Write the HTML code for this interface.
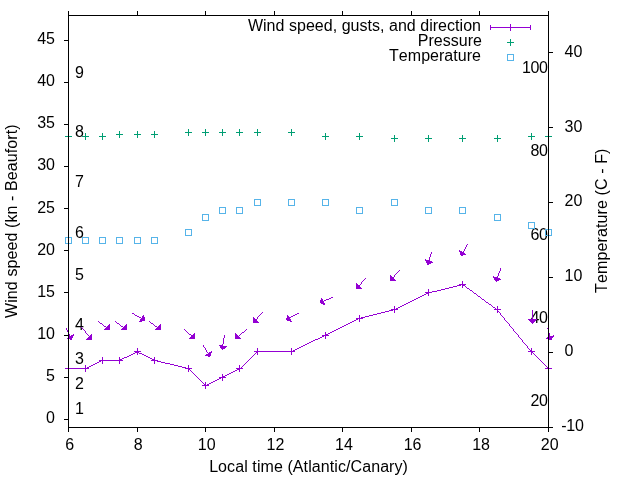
<!DOCTYPE html>
<html><head><meta charset="utf-8"><title>Wind plot</title>
<style>html,body{margin:0;padding:0;background:#fff;}svg{display:block;will-change:transform;}text{font-kerning:none;letter-spacing:0.03px;font-family:"Liberation Sans",sans-serif;font-size:16px;fill:#000;}</style></head><body>
<svg width="640" height="480" viewBox="0 0 640 480">
<rect width="640" height="480" fill="#fff"/>
<text x="75" y="414.3">1</text>
<text x="75" y="389.1">2</text>
<text x="75" y="363.8">3</text>
<text x="75" y="330.2">4</text>
<text x="75" y="279.8">5</text>
<text x="75" y="237.7">6</text>
<text x="75" y="187.3">7</text>
<text x="75" y="136.8">8</text>
<text x="75" y="78.0">9</text>
<text x="547.6" y="406.1" text-anchor="end" style="letter-spacing:-0.4px">20</text>
<text x="547.6" y="322.9" text-anchor="end" style="letter-spacing:-0.4px">40</text>
<text x="547.6" y="239.7" text-anchor="end" style="letter-spacing:-0.4px">60</text>
<text x="547.6" y="156.4" text-anchor="end" style="letter-spacing:-0.4px">80</text>
<text x="547.6" y="73.2" text-anchor="end" style="letter-spacing:-0.4px">100</text>
<g stroke="#9400d3" stroke-width="1" fill="#9400d3" shape-rendering="crispEdges">
<path d="M71.37 339.52 L73.66 334.37 L67.49 338.28 Z" stroke-linejoin="round"/>
<path d="M92.00 340.00 L92.00 333.60 L85.60 340.00 Z" stroke="none"/>
<path d="M110.00 330.00 L110.00 323.60 L103.60 330.00 Z" stroke="none"/>
<path d="M127.00 330.00 L127.00 323.60 L120.60 330.00 Z" stroke="none"/>
<path d="M144.56 320.26 L143.62 315.48 L139.39 321.69 Z" stroke-linejoin="round"/>
<path d="M161.00 330.00 L161.00 323.60 L154.60 330.00 Z" stroke="none"/>
<path d="M195.00 339.00 L195.00 332.60 L188.60 339.00 Z" stroke="none"/>
<path d="M209.97 356.56 L211.42 351.78 L205.49 355.39 Z" stroke-linejoin="round"/>
<path d="M222.03 349.32 L219.42 345.16 L226.50 346.84 Z" stroke-linejoin="round"/>
<path d="M235.00 339.00 L235.00 332.60 L241.40 339.00 Z" stroke="none"/>
<path d="M253.00 323.00 L253.00 316.60 L259.40 323.00 Z" stroke="none"/>
<path d="M286.47 319.62 L287.70 315.59 L291.23 321.37 Z" stroke-linejoin="round"/>
<path d="M320.46 302.61 L321.50 298.59 L324.75 304.54 Z" stroke-linejoin="round"/>
<path d="M356.00 289.00 L356.00 282.60 L362.40 289.00 Z" stroke="none"/>
<path d="M390.00 281.00 L390.00 274.60 L396.40 281.00 Z" stroke="none"/>
<path d="M427.95 264.32 L425.39 259.61 L432.50 262.37 Z" stroke-linejoin="round"/>
<path d="M461.18 255.53 L459.33 250.47 L465.51 254.11 Z" stroke-linejoin="round"/>
<path d="M496.12 281.51 L493.30 276.80 L500.60 279.39 Z" stroke-linejoin="round"/>
<path d="M532.50 323.60 L528.37 319.17 L536.63 319.17 Z" stroke-linejoin="round"/>
<path d="M550.88 340.01 L546.75 338.28 L553.59 335.98 Z" stroke-linejoin="round"/>
</g>
<path d="M467 244h1v1h-1zM466 245h1v1h-1zM466 246h1v1h-1zM465 247h1v1h-1zM465 248h1v1h-1zM464 249h1v1h-1zM464 250h1v1h-1zM463 251h1v1h-1zM431 252h1v1h-1zM462 252h1v1h-1zM431 253h1v1h-1zM462 253h1v1h-1zM430 254h1v1h-1zM430 255h1v1h-1zM430 256h1v1h-1zM429 257h1v1h-1zM429 258h1v1h-1zM429 259h1v1h-1zM429 260h1v1h-1zM428 261h1v1h-1zM428 262h1v1h-1zM500 268h1v1h-1zM500 269h1v1h-1zM399 270h1v1h-1zM500 270h1v1h-1zM398 271h1v1h-1zM499 271h1v1h-1zM397 272h1v1h-1zM499 272h1v1h-1zM396 273h1v1h-1zM498 273h1v1h-1zM395 274h1v1h-1zM498 274h1v1h-1zM394 275h1v1h-1zM498 275h1v1h-1zM394 276h1v1h-1zM497 276h1v1h-1zM393 277h1v1h-1zM497 277h1v1h-1zM365 278h1v1h-1zM392 278h1v1h-1zM497 278h1v1h-1zM364 279h1v1h-1zM391 279h1v1h-1zM496 279h1v1h-1zM363 280h1v1h-1zM362 281h1v1h-1zM462 281h1v1h-1zM361 282h1v1h-1zM462 282h1v1h-1zM361 283h1v1h-1zM462 283h1v1h-1zM360 284h1v1h-1zM459 284h7v1h-7zM359 285h1v1h-1zM457 285h4v1h-4zM462 285h3v1h-3zM358 286h1v1h-1zM453 286h4v1h-4zM462 286h1v1h-1zM465 286h1v1h-1zM357 287h1v1h-1zM449 287h4v1h-4zM462 287h1v1h-1zM466 287h1v1h-1zM445 288h4v1h-4zM467 288h2v1h-2zM428 289h1v1h-1zM441 289h4v1h-4zM469 289h1v1h-1zM428 290h1v1h-1zM437 290h4v1h-4zM470 290h2v1h-2zM428 291h1v1h-1zM432 291h5v1h-5zM472 291h1v1h-1zM425 292h7v1h-7zM473 292h1v1h-1zM426 293h3v1h-3zM474 293h2v1h-2zM424 294h2v1h-2zM428 294h1v1h-1zM476 294h1v1h-1zM422 295h2v1h-2zM428 295h1v1h-1zM477 295h1v1h-1zM420 296h2v1h-2zM478 296h2v1h-2zM331 297h2v1h-2zM418 297h2v1h-2zM480 297h1v1h-1zM329 298h2v1h-2zM416 298h2v1h-2zM481 298h1v1h-1zM326 299h3v1h-3zM414 299h2v1h-2zM482 299h2v1h-2zM324 300h2v1h-2zM412 300h2v1h-2zM484 300h1v1h-1zM322 301h2v1h-2zM410 301h2v1h-2zM485 301h1v1h-1zM408 302h2v1h-2zM486 302h2v1h-2zM406 303h2v1h-2zM488 303h1v1h-1zM404 304h2v1h-2zM489 304h2v1h-2zM402 305h2v1h-2zM491 305h1v1h-1zM394 306h1v1h-1zM400 306h2v1h-2zM492 306h1v1h-1zM497 306h1v1h-1zM394 307h1v1h-1zM398 307h2v1h-2zM493 307h2v1h-2zM497 307h1v1h-1zM394 308h1v1h-1zM396 308h2v1h-2zM495 308h1v1h-1zM497 308h1v1h-1zM391 309h7v1h-7zM494 309h7v1h-7zM389 310h4v1h-4zM394 310h1v1h-1zM497 310h1v1h-1zM532 310h1v1h-1zM385 311h4v1h-4zM394 311h1v1h-1zM497 311h2v1h-2zM532 311h1v1h-1zM262 312h1v1h-1zM381 312h4v1h-4zM394 312h1v1h-1zM497 312h1v1h-1zM499 312h1v1h-1zM532 312h1v1h-1zM132 313h2v1h-2zM261 313h1v1h-1zM297 313h2v1h-2zM377 313h4v1h-4zM500 313h1v1h-1zM532 313h1v1h-1zM134 314h1v1h-1zM260 314h1v1h-1zM295 314h2v1h-2zM373 314h4v1h-4zM500 314h1v1h-1zM532 314h1v1h-1zM135 315h2v1h-2zM259 315h1v1h-1zM293 315h2v1h-2zM359 315h1v1h-1zM369 315h4v1h-4zM501 315h1v1h-1zM532 315h1v1h-1zM137 316h2v1h-2zM258 316h1v1h-1zM291 316h2v1h-2zM359 316h1v1h-1zM365 316h4v1h-4zM502 316h1v1h-1zM532 316h1v1h-1zM139 317h2v1h-2zM257 317h1v1h-1zM289 317h2v1h-2zM359 317h1v1h-1zM361 317h4v1h-4zM503 317h1v1h-1zM532 317h1v1h-1zM141 318h1v1h-1zM257 318h1v1h-1zM288 318h1v1h-1zM356 318h7v1h-7zM504 318h1v1h-1zM532 318h1v1h-1zM142 319h1v1h-1zM256 319h1v1h-1zM356 319h2v1h-2zM359 319h1v1h-1zM504 319h1v1h-1zM532 319h1v1h-1zM255 320h1v1h-1zM354 320h2v1h-2zM359 320h1v1h-1zM505 320h1v1h-1zM532 320h1v1h-1zM98 321h1v1h-1zM115 321h1v1h-1zM149 321h1v1h-1zM254 321h1v1h-1zM352 321h2v1h-2zM359 321h1v1h-1zM506 321h1v1h-1zM532 321h1v1h-1zM99 322h1v1h-1zM116 322h1v1h-1zM150 322h1v1h-1zM350 322h2v1h-2zM507 322h1v1h-1zM100 323h2v1h-2zM117 323h2v1h-2zM151 323h2v1h-2zM348 323h2v1h-2zM508 323h1v1h-1zM102 324h1v1h-1zM119 324h1v1h-1zM153 324h1v1h-1zM346 324h2v1h-2zM509 324h1v1h-1zM103 325h1v1h-1zM120 325h1v1h-1zM154 325h1v1h-1zM344 325h2v1h-2zM509 325h1v1h-1zM104 326h2v1h-2zM121 326h2v1h-2zM155 326h2v1h-2zM342 326h2v1h-2zM510 326h1v1h-1zM81 327h1v1h-1zM106 327h1v1h-1zM123 327h1v1h-1zM157 327h1v1h-1zM340 327h2v1h-2zM511 327h1v1h-1zM66 328h1v1h-1zM82 328h1v1h-1zM107 328h1v1h-1zM124 328h1v1h-1zM158 328h1v1h-1zM338 328h2v1h-2zM512 328h1v1h-1zM547 328h1v1h-1zM66 329h1v1h-1zM83 329h1v1h-1zM184 329h1v1h-1zM246 329h1v1h-1zM336 329h2v1h-2zM513 329h1v1h-1zM548 329h1v1h-1zM67 330h1v1h-1zM84 330h1v1h-1zM185 330h1v1h-1zM245 330h1v1h-1zM334 330h2v1h-2zM513 330h1v1h-1zM548 330h1v1h-1zM67 331h1v1h-1zM85 331h1v1h-1zM186 331h1v1h-1zM244 331h1v1h-1zM332 331h2v1h-2zM514 331h1v1h-1zM548 331h1v1h-1zM68 332h1v1h-1zM85 332h1v1h-1zM187 332h1v1h-1zM242 332h2v1h-2zM325 332h1v1h-1zM330 332h2v1h-2zM515 332h1v1h-1zM548 332h1v1h-1zM68 333h1v1h-1zM86 333h1v1h-1zM188 333h1v1h-1zM241 333h1v1h-1zM325 333h1v1h-1zM328 333h2v1h-2zM516 333h1v1h-1zM549 333h1v1h-1zM69 334h1v1h-1zM87 334h1v1h-1zM189 334h2v1h-2zM240 334h1v1h-1zM325 334h3v1h-3zM517 334h1v1h-1zM549 334h1v1h-1zM69 335h1v1h-1zM88 335h1v1h-1zM191 335h1v1h-1zM224 335h1v1h-1zM239 335h1v1h-1zM322 335h7v1h-7zM518 335h1v1h-1zM549 335h1v1h-1zM69 336h1v1h-1zM89 336h1v1h-1zM192 336h1v1h-1zM224 336h1v1h-1zM237 336h2v1h-2zM322 336h2v1h-2zM325 336h1v1h-1zM518 336h1v1h-1zM549 336h1v1h-1zM70 337h1v1h-1zM89 337h1v1h-1zM193 337h1v1h-1zM224 337h1v1h-1zM320 337h2v1h-2zM325 337h1v1h-1zM519 337h1v1h-1zM550 337h1v1h-1zM223 338h1v1h-1zM318 338h2v1h-2zM325 338h1v1h-1zM520 338h1v1h-1zM550 338h1v1h-1zM223 339h1v1h-1zM315 339h3v1h-3zM521 339h1v1h-1zM223 340h1v1h-1zM313 340h2v1h-2zM522 340h1v1h-1zM223 341h1v1h-1zM311 341h2v1h-2zM522 341h1v1h-1zM223 342h1v1h-1zM309 342h2v1h-2zM523 342h1v1h-1zM223 343h1v1h-1zM307 343h2v1h-2zM524 343h1v1h-1zM222 344h1v1h-1zM305 344h2v1h-2zM525 344h1v1h-1zM203 345h1v1h-1zM222 345h1v1h-1zM303 345h2v1h-2zM526 345h1v1h-1zM203 346h1v1h-1zM222 346h1v1h-1zM301 346h2v1h-2zM527 346h1v1h-1zM204 347h1v1h-1zM222 347h1v1h-1zM299 347h2v1h-2zM527 347h1v1h-1zM137 348h1v1h-1zM205 348h1v1h-1zM257 348h1v1h-1zM291 348h1v1h-1zM297 348h2v1h-2zM528 348h1v1h-1zM531 348h1v1h-1zM137 349h1v1h-1zM205 349h1v1h-1zM257 349h1v1h-1zM291 349h1v1h-1zM295 349h2v1h-2zM529 349h1v1h-1zM531 349h1v1h-1zM137 350h1v1h-1zM206 350h1v1h-1zM257 350h1v1h-1zM291 350h1v1h-1zM293 350h2v1h-2zM530 350h2v1h-2zM134 351h7v1h-7zM206 351h1v1h-1zM254 351h41v1h-41zM528 351h7v1h-7zM135 352h4v1h-4zM207 352h1v1h-1zM256 352h2v1h-2zM291 352h1v1h-1zM531 352h2v1h-2zM133 353h2v1h-2zM137 353h1v1h-1zM139 353h3v1h-3zM208 353h1v1h-1zM255 353h1v1h-1zM257 353h1v1h-1zM291 353h1v1h-1zM531 353h1v1h-1zM533 353h1v1h-1zM131 354h2v1h-2zM137 354h1v1h-1zM142 354h2v1h-2zM208 354h1v1h-1zM254 354h1v1h-1zM257 354h1v1h-1zM291 354h1v1h-1zM531 354h1v1h-1zM534 354h1v1h-1zM129 355h2v1h-2zM144 355h2v1h-2zM253 355h1v1h-1zM535 355h1v1h-1zM127 356h2v1h-2zM146 356h2v1h-2zM252 356h1v1h-1zM536 356h1v1h-1zM102 357h1v1h-1zM119 357h1v1h-1zM124 357h3v1h-3zM148 357h2v1h-2zM154 357h1v1h-1zM251 357h1v1h-1zM537 357h1v1h-1zM102 358h1v1h-1zM119 358h1v1h-1zM122 358h2v1h-2zM150 358h2v1h-2zM154 358h1v1h-1zM250 358h1v1h-1zM538 358h1v1h-1zM102 359h1v1h-1zM119 359h3v1h-3zM152 359h3v1h-3zM249 359h1v1h-1zM539 359h1v1h-1zM99 360h24v1h-24zM151 360h7v1h-7zM248 360h1v1h-1zM540 360h1v1h-1zM99 361h2v1h-2zM102 361h1v1h-1zM119 361h1v1h-1zM154 361h1v1h-1zM157 361h4v1h-4zM247 361h1v1h-1zM541 361h1v1h-1zM97 362h2v1h-2zM102 362h1v1h-1zM119 362h1v1h-1zM154 362h1v1h-1zM161 362h4v1h-4zM246 362h1v1h-1zM542 362h1v1h-1zM95 363h2v1h-2zM102 363h1v1h-1zM119 363h1v1h-1zM154 363h1v1h-1zM165 363h5v1h-5zM245 363h1v1h-1zM543 363h1v1h-1zM93 364h2v1h-2zM170 364h4v1h-4zM244 364h1v1h-1zM544 364h1v1h-1zM68 365h1v1h-1zM85 365h1v1h-1zM91 365h2v1h-2zM174 365h4v1h-4zM188 365h1v1h-1zM239 365h1v1h-1zM243 365h1v1h-1zM545 365h1v1h-1zM548 365h1v1h-1zM68 366h1v1h-1zM85 366h1v1h-1zM89 366h2v1h-2zM178 366h4v1h-4zM188 366h1v1h-1zM239 366h1v1h-1zM242 366h1v1h-1zM546 366h1v1h-1zM548 366h1v1h-1zM68 367h1v1h-1zM85 367h1v1h-1zM87 367h2v1h-2zM182 367h4v1h-4zM188 367h1v1h-1zM239 367h1v1h-1zM241 367h1v1h-1zM547 367h2v1h-2zM65 368h24v1h-24zM185 368h7v1h-7zM236 368h7v1h-7zM545 368h7v1h-7zM68 369h1v1h-1zM85 369h1v1h-1zM188 369h2v1h-2zM237 369h3v1h-3zM548 369h1v1h-1zM68 370h1v1h-1zM85 370h1v1h-1zM188 370h1v1h-1zM190 370h1v1h-1zM235 370h2v1h-2zM239 370h1v1h-1zM548 370h1v1h-1zM68 371h1v1h-1zM85 371h1v1h-1zM188 371h1v1h-1zM191 371h1v1h-1zM233 371h2v1h-2zM239 371h1v1h-1zM548 371h1v1h-1zM192 372h1v1h-1zM231 372h2v1h-2zM193 373h1v1h-1zM229 373h2v1h-2zM194 374h1v1h-1zM222 374h1v1h-1zM227 374h2v1h-2zM195 375h1v1h-1zM222 375h1v1h-1zM225 375h2v1h-2zM196 376h1v1h-1zM222 376h3v1h-3zM197 377h1v1h-1zM219 377h7v1h-7zM198 378h1v1h-1zM219 378h2v1h-2zM222 378h1v1h-1zM199 379h1v1h-1zM217 379h2v1h-2zM222 379h1v1h-1zM200 380h1v1h-1zM215 380h2v1h-2zM222 380h1v1h-1zM201 381h1v1h-1zM213 381h2v1h-2zM202 382h1v1h-1zM205 382h1v1h-1zM211 382h2v1h-2zM203 383h1v1h-1zM205 383h1v1h-1zM209 383h2v1h-2zM204 384h2v1h-2zM207 384h2v1h-2zM202 385h7v1h-7zM205 386h1v1h-1zM205 387h1v1h-1zM205 388h1v1h-1z" fill="#9400d3" shape-rendering="crispEdges"/>
<path d="M188 129h1v1h-1zM205 129h1v1h-1zM222 129h1v1h-1zM239 129h1v1h-1zM257 129h1v1h-1zM291 129h1v1h-1zM188 130h1v1h-1zM205 130h1v1h-1zM222 130h1v1h-1zM239 130h1v1h-1zM257 130h1v1h-1zM291 130h1v1h-1zM119 131h1v1h-1zM137 131h1v1h-1zM154 131h1v1h-1zM188 131h1v1h-1zM205 131h1v1h-1zM222 131h1v1h-1zM239 131h1v1h-1zM257 131h1v1h-1zM291 131h1v1h-1zM119 132h1v1h-1zM137 132h1v1h-1zM154 132h1v1h-1zM185 132h7v1h-7zM202 132h7v1h-7zM219 132h7v1h-7zM236 132h7v1h-7zM254 132h7v1h-7zM288 132h7v1h-7zM68 133h1v1h-1zM85 133h1v1h-1zM102 133h1v1h-1zM119 133h1v1h-1zM137 133h1v1h-1zM154 133h1v1h-1zM188 133h1v1h-1zM205 133h1v1h-1zM222 133h1v1h-1zM239 133h1v1h-1zM257 133h1v1h-1zM291 133h1v1h-1zM325 133h1v1h-1zM359 133h1v1h-1zM531 133h1v1h-1zM548 133h1v1h-1zM68 134h1v1h-1zM85 134h1v1h-1zM102 134h1v1h-1zM116 134h7v1h-7zM134 134h7v1h-7zM151 134h7v1h-7zM188 134h1v1h-1zM205 134h1v1h-1zM222 134h1v1h-1zM239 134h1v1h-1zM257 134h1v1h-1zM291 134h1v1h-1zM325 134h1v1h-1zM359 134h1v1h-1zM531 134h1v1h-1zM548 134h1v1h-1zM68 135h1v1h-1zM85 135h1v1h-1zM102 135h1v1h-1zM119 135h1v1h-1zM137 135h1v1h-1zM154 135h1v1h-1zM188 135h1v1h-1zM205 135h1v1h-1zM222 135h1v1h-1zM239 135h1v1h-1zM257 135h1v1h-1zM291 135h1v1h-1zM325 135h1v1h-1zM359 135h1v1h-1zM394 135h1v1h-1zM428 135h1v1h-1zM462 135h1v1h-1zM497 135h1v1h-1zM531 135h1v1h-1zM548 135h1v1h-1zM65 136h7v1h-7zM82 136h7v1h-7zM99 136h7v1h-7zM119 136h1v1h-1zM137 136h1v1h-1zM154 136h1v1h-1zM322 136h7v1h-7zM356 136h7v1h-7zM394 136h1v1h-1zM428 136h1v1h-1zM462 136h1v1h-1zM497 136h1v1h-1zM528 136h7v1h-7zM545 136h7v1h-7zM68 137h1v1h-1zM85 137h1v1h-1zM102 137h1v1h-1zM119 137h1v1h-1zM137 137h1v1h-1zM154 137h1v1h-1zM325 137h1v1h-1zM359 137h1v1h-1zM394 137h1v1h-1zM428 137h1v1h-1zM462 137h1v1h-1zM497 137h1v1h-1zM531 137h1v1h-1zM548 137h1v1h-1zM68 138h1v1h-1zM85 138h1v1h-1zM102 138h1v1h-1zM325 138h1v1h-1zM359 138h1v1h-1zM391 138h7v1h-7zM425 138h7v1h-7zM459 138h7v1h-7zM494 138h7v1h-7zM531 138h1v1h-1zM548 138h1v1h-1zM68 139h1v1h-1zM85 139h1v1h-1zM102 139h1v1h-1zM325 139h1v1h-1zM359 139h1v1h-1zM394 139h1v1h-1zM428 139h1v1h-1zM462 139h1v1h-1zM497 139h1v1h-1zM531 139h1v1h-1zM548 139h1v1h-1zM394 140h1v1h-1zM428 140h1v1h-1zM462 140h1v1h-1zM497 140h1v1h-1zM394 141h1v1h-1zM428 141h1v1h-1zM462 141h1v1h-1zM497 141h1v1h-1z" fill="#009e73" shape-rendering="crispEdges"/>
<g stroke="#56b4e9" stroke-width="1" fill="none" shape-rendering="crispEdges">
<rect x="65.50" y="237.23" width="6" height="6"/>
<rect x="82.64" y="237.23" width="6" height="6"/>
<rect x="99.79" y="237.23" width="6" height="6"/>
<rect x="116.93" y="237.23" width="6" height="6"/>
<rect x="134.07" y="237.23" width="6" height="6"/>
<rect x="151.21" y="237.23" width="6" height="6"/>
<rect x="185.50" y="229.74" width="6" height="6"/>
<rect x="202.64" y="214.75" width="6" height="6"/>
<rect x="219.79" y="207.26" width="6" height="6"/>
<rect x="236.93" y="207.26" width="6" height="6"/>
<rect x="254.07" y="199.77" width="6" height="6"/>
<rect x="288.36" y="199.77" width="6" height="6"/>
<rect x="322.64" y="199.77" width="6" height="6"/>
<rect x="356.93" y="207.26" width="6" height="6"/>
<rect x="391.21" y="199.77" width="6" height="6"/>
<rect x="425.50" y="207.26" width="6" height="6"/>
<rect x="459.79" y="207.26" width="6" height="6"/>
<rect x="494.07" y="214.75" width="6" height="6"/>
<rect x="528.36" y="222.25" width="6" height="6"/>
<rect x="545.50" y="229.74" width="6" height="6"/>
</g>
<path d="M490.5 27.5H530.5M490.5 25V30M530.5 25V30M510.5 24V31" stroke="#9400d3" fill="none" shape-rendering="crispEdges"/>
<path d="M507 42.5H514M510.5 39V46" stroke="#009e73" fill="none"/>
<rect x="507.5" y="54.5" width="6" height="6" stroke="#56b4e9" fill="none"/>
<path d="M68.5 15.5H548.5V427.5H68.5ZM68.5 419.5H64.0M68.5 377.5H64.0M68.5 335.5H64.0M68.5 292.5H64.0M68.5 250.5H64.0M68.5 208.5H64.0M68.5 166.5H64.0M68.5 124.5H64.0M68.5 82.5H64.0M68.5 40.5H64.0M548.5 427.5H553.0M548.5 352.5H553.0M548.5 277.5H553.0M548.5 202.5H553.0M548.5 127.5H553.0M548.5 52.5H553.0M68.5 427.5V432.0M68.5 15.5V11.0M137.5 427.5V432.0M137.5 15.5V11.0M205.5 427.5V432.0M205.5 15.5V11.0M274.5 427.5V432.0M274.5 15.5V11.0M342.5 427.5V432.0M342.5 15.5V11.0M411.5 427.5V432.0M411.5 15.5V11.0M479.5 427.5V432.0M479.5 15.5V11.0M548.5 427.5V432.0M548.5 15.5V11.0" stroke="#000" stroke-width="1" fill="none" shape-rendering="crispEdges"/>
<text x="55" y="422.7" text-anchor="end">0</text>
<text x="55" y="380.7" text-anchor="end">5</text>
<text x="55" y="338.6" text-anchor="end">10</text>
<text x="55" y="296.6" text-anchor="end">15</text>
<text x="55" y="254.5" text-anchor="end">20</text>
<text x="55" y="212.5" text-anchor="end">25</text>
<text x="55" y="170.4" text-anchor="end">30</text>
<text x="55" y="128.4" text-anchor="end">35</text>
<text x="55" y="86.4" text-anchor="end">40</text>
<text x="55" y="44.3" text-anchor="end">45</text>
<text x="561.2" y="431.1" style="letter-spacing:-0.25px">-10</text>
<text x="564.6" y="356.2">0</text>
<text x="564.6" y="281.3">10</text>
<text x="564.6" y="206.4">20</text>
<text x="564.6" y="131.5">30</text>
<text x="564.6" y="56.6">40</text>
<text x="69.7" y="450" text-anchor="middle">6</text>
<text x="138.3" y="450" text-anchor="middle">8</text>
<text x="206.8" y="450" text-anchor="middle">10</text>
<text x="275.4" y="450" text-anchor="middle">12</text>
<text x="344.0" y="450" text-anchor="middle">14</text>
<text x="412.6" y="450" text-anchor="middle">16</text>
<text x="481.1" y="450" text-anchor="middle">18</text>
<text x="549.7" y="450" text-anchor="middle">20</text>
<text x="308.6" y="472" text-anchor="middle" style="letter-spacing:0.085px">Local time (Atlantic/Canary)</text>
<text transform="translate(17,221.15) rotate(-90)" text-anchor="middle" style="letter-spacing:0.095px">Wind speed (kn - Beaufort)</text>
<text transform="translate(607,220.7) rotate(-90)" text-anchor="middle" style="letter-spacing:0.114px">Temperature (C - F)</text>
<text x="481" y="30.7" text-anchor="end">Wind speed, gusts, and direction</text>
<text x="482" y="45.7" text-anchor="end">Pressure</text>
<text x="481" y="60.7" text-anchor="end">Temperature</text>
</svg></body></html>
